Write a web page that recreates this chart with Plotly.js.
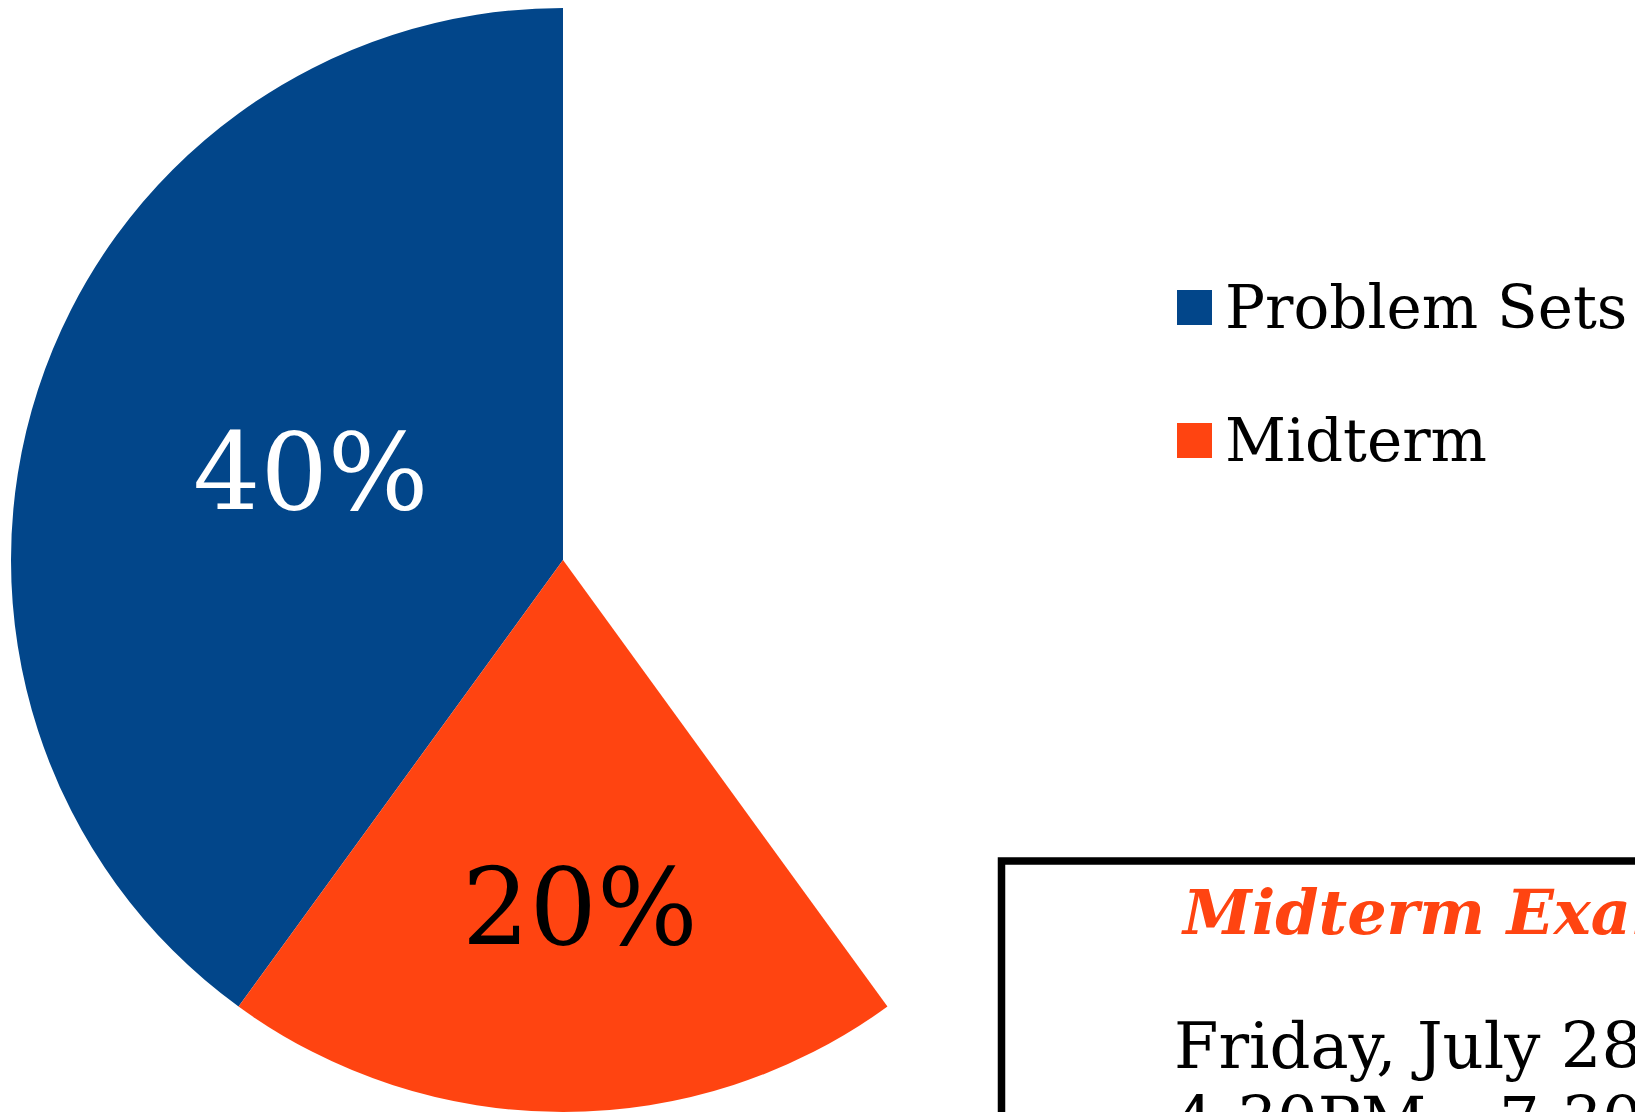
<!DOCTYPE html>
<html>
<head>
<meta charset="utf-8">
<script src="https://cdn.plot.ly/plotly-3.0.1.min.js"></script>
<style>
  html, body { margin: 0; padding: 0; background: #ffffff; }
  #chart { width: 1635px; height: 1112px; }
</style>
</head>
<body>
<div id="chart"></div>
<script>
// ---- data ----
const labels = ["Problem Sets", "Midterm", "Remaining"];
const shares = [40, 20, 40];
const sliceColors = ["#02468A", "#FF4411", "rgba(0,0,0,0)"];
const labelColors = ["#FFFFFF", "#000000", "rgba(0,0,0,0)"];
const labelTemplates = ["\u00A0%{percent:.0%}", "\u00A0%{percent:.0%}", ""];
const legendCount = 2;               // only the first two slices appear in the legend
const boxTitle = "Midterm Exam";
const boxLines = ["Friday, July 28", "4:30PM – 7:30PM"];

// ---- layout helpers (pixel -> paper) ----
const W = 1635, H = 1112;
const px = x => x / W;
const py = y => 1 - y / H;
const FONT = "DejaVu Serif";

const trace = {
  type: "pie",
  labels: labels,
  values: shares,
  sort: false,
  direction: "counterclockwise",
  rotation: -144,
  marker: { colors: sliceColors, line: { width: 0 } },
  texttemplate: labelTemplates,
  textposition: "inside",
  insidetextorientation: "horizontal",
  insidetextfont: { family: FONT, size: 106, color: labelColors },
  hoverinfo: "skip",
  showlegend: false,
  domain: { x: [px(11), px(1115)], y: [py(1112), py(8)] }
};

const shapes = [];
const annotations = [];

// legend (swatches + labels)
const legendRowY = [307.5, 440.5];
for (let i = 0; i < legendCount; i++) {
  const cy = legendRowY[i];
  shapes.push({
    type: "rect", xref: "paper", yref: "paper",
    x0: px(1177), x1: px(1212), y0: py(cy + 17.5), y1: py(cy - 17.5),
    fillcolor: sliceColors[i], line: { width: 0 }
  });
  annotations.push({
    xref: "paper", yref: "paper", x: px(1223), y: py(cy),
    xanchor: "left", yanchor: "middle", showarrow: false,
    text: labels[i], font: { family: FONT, size: 59.5, color: "#000000" }
  });
}

// exam box
shapes.push({
  type: "rect", xref: "paper", yref: "paper",
  x0: px(1001.5), x1: px(1720), y0: py(1200), y1: py(861),
  fillcolor: "rgba(0,0,0,0)", line: { width: 7.5, color: "#000000" }
});
annotations.push({
  xref: "paper", yref: "paper", x: px(1179), y: py(912),
  xanchor: "left", yanchor: "middle", showarrow: false,
  text: "<b><i>" + boxTitle + "</i></b>",
  font: { family: FONT, size: 62, color: "#FF4411" }
});
const lineCenters = [1046, 1120];
boxLines.forEach((t, i) => {
  annotations.push({
    xref: "paper", yref: "paper", x: px(1172), y: py(lineCenters[i]),
    xanchor: "left", yanchor: "middle", showarrow: false,
    text: t, font: { family: FONT, size: 64, color: "#000000" }
  });
});

const layout = {
  width: W, height: H,
  margin: { l: 0, r: 0, t: 0, b: 0 },
  paper_bgcolor: "#ffffff",
  plot_bgcolor: "#ffffff",
  font: { family: FONT },
  showlegend: false,
  shapes: shapes,
  annotations: annotations
};

Plotly.newPlot("chart", [trace], layout, { displayModeBar: false, staticPlot: true });
</script>
</body>
</html>
